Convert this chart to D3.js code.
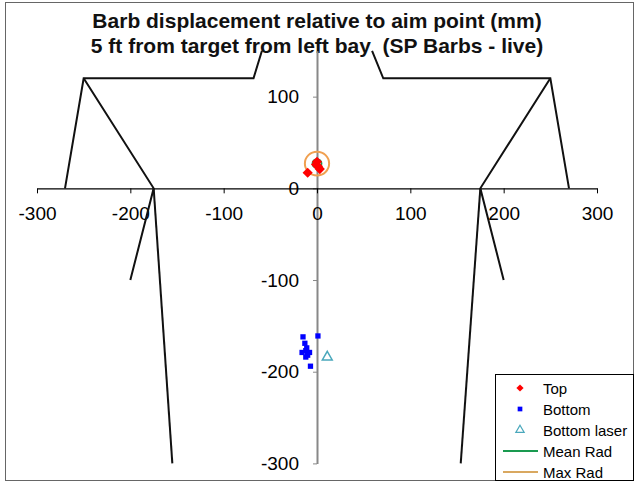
<!DOCTYPE html>
<html>
<head>
<meta charset="utf-8">
<script src="https://cdn.jsdelivr.net/npm/d3@7"></script>
<style>
  body { margin: 0; background: #fff; }
  svg { font-family: "Liberation Sans", Arial, sans-serif; }
</style>
</head>
<body>
<script>
const w = 636;
const h = 485;

// target outline, drawn as polylines
const outlineX = [
  [-59, -68, -250, -270],
  [-250, -175, -200],
  [-175, -155],
  [59, 71, 250, 270],
  [250, 175, 200],
  [175, 154]
];
const outlineY = [
  [150, 120, 120, 0],
  [120, 0, -100],
  [0, -300],
  [150, 120, 120, 0],
  [120, 0, -100],
  [0, -300]
];

const topX = [-10, 0, 1, 3, -1];
const topY = [17, 29, 24, 21, 26];
const bottomX = [-15, 1, -13, -11, -12, -16, -8, -10, -12, -7];
const bottomY = [-162, -161, -169, -174, -177, -179, -179, -182, -184, -194];
const laserX = [11];
const laserY = [-184];

const radCenter = [0, 27];
const meanRad = 5;
const maxRad = 13;

const xTicks = [-300, -200, -100, 0, 100, 200, 300];
const yTicks = [-300, -200, -100, 0, 100];
const legendVals = ["Top", "Bottom", "Bottom laser", "Mean Rad", "Max Rad"];

const xScale = d3.scaleLinear().domain([-300, 300]).range([37, 597]);
const yScale = d3.scaleLinear().domain([-300, 150]).range([463.4, 50.8]);

const svg = d3.select("body")
              .append("svg")
              .attr("width", w)
              .attr("height", h);

svg.append("rect")
   .attr("x", 5.5).attr("y", 2.5)
   .attr("width", 628).attr("height", 478)
   .attr("fill", "#fff")
   .attr("stroke", "#666");

// title
const title = svg.append("text")
   .attr("text-anchor", "middle")
   .attr("font-weight", "bold")
   .attr("font-size", 21)
   .attr("fill", "#111");
title.append("tspan").attr("x", 317).attr("y", 28).text("Barb displacement relative to aim point (mm)");
title.append("tspan").attr("x", 317).attr("y", 53).text("5 ft from target from left bay\u00a0 (SP Barbs - live)");

// axes
const xAxis = d3.axisBottom(xScale)
                .tickValues(xTicks)
                .tickFormat(d => String(d))
                .tickSizeInner(5)
                .tickSizeOuter(0)
                .tickPadding(13);
const yAxis = d3.axisLeft(yScale)
                .tickValues(yTicks)
                .tickFormat(d => String(d))
                .tickSizeInner(4)
                .tickSizeOuter(0)
                .tickPadding(14);

const gy = svg.append("g")
   .attr("transform", "translate(" + xScale(0) + ",0)")
   .call(yAxis);
gy.select(".domain").attr("stroke", "#888").attr("stroke-width", 2);
gy.selectAll(".tick line").attr("stroke", "#888");

const gx = svg.append("g")
   .attr("transform", "translate(0," + yScale(0) + ")")
   .call(xAxis);
gx.select(".domain").attr("stroke", "#000").attr("stroke-width", 1.3);
gx.selectAll(".tick line").attr("stroke", "#000");

svg.selectAll(".tick text")
   .attr("font-size", 19)
   .attr("font-family", "Liberation Sans, Arial, sans-serif")
   .attr("fill", "#000");

// outline
const line = d3.line().x(d => xScale(d[0])).y(d => yScale(d[1]));
svg.selectAll(".outline")
   .data(outlineX.map((xs, i) => xs.map((x, j) => [x, outlineY[i][j]])))
   .enter()
   .append("path")
   .attr("class", "outline")
   .attr("d", line)
   .attr("fill", "none")
   .attr("stroke", "#111")
   .attr("stroke-width", 2);

// radius circles
svg.append("ellipse")
   .attr("cx", xScale(radCenter[0])).attr("cy", yScale(radCenter[1]))
   .attr("rx", xScale(meanRad) - xScale(0)).attr("ry", yScale(0) - yScale(meanRad))
   .attr("fill", "none").attr("stroke", "#1a9a50").attr("stroke-width", 1.5);
svg.append("ellipse")
   .attr("cx", xScale(radCenter[0])).attr("cy", yScale(radCenter[1]))
   .attr("rx", xScale(maxRad) - xScale(0)).attr("ry", yScale(0) - yScale(maxRad))
   .attr("fill", "none").attr("stroke", "#f0a050").attr("stroke-width", 2);

svg.selectAll(".top")
   .data(topX)
   .enter()
   .append("path")
   .attr("d", d3.symbol().type(d3.symbolSquare).size(52))
   .attr("transform", (d, i) => "translate(" + xScale(d) + "," + yScale(topY[i]) + ") rotate(45)")
   .attr("fill", "#ff0000");

svg.selectAll(".bottom")
   .data(bottomX)
   .enter()
   .append("path")
   .attr("d", d3.symbol().type(d3.symbolSquare).size(28))
   .attr("transform", (d, i) => "translate(" + xScale(d) + "," + yScale(bottomY[i]) + ")")
   .attr("fill", "#0000ff");

svg.selectAll(".laser")
   .data(laserX)
   .enter()
   .append("path")
   .attr("d", d3.symbol().type(d3.symbolTriangle).size(42))
   .attr("transform", (d, i) => "translate(" + xScale(d) + "," + yScale(laserY[i]) + ")")
   .attr("fill", "none")
   .attr("stroke", "#4aa8bc")
   .attr("stroke-width", 1.5);

// legend
svg.append("rect")
   .attr("x", 495.5).attr("y", 374.5)
   .attr("width", 138).attr("height", 106)
   .attr("fill", "#fff")
   .attr("stroke", "#000");

const legend = svg.selectAll(".legends")
                  .data(legendVals)
                  .enter()
                  .append("g")
                  .attr("transform", (d, i) => "translate(0," + (388 + i * 21) + ")");

legend.append("text")
      .attr("x", 543)
      .attr("y", 5.5)
      .attr("font-size", 15)
      .text(d => d);

legend.filter((d, i) => i === 0).append("path")
      .attr("d", d3.symbol().type(d3.symbolSquare).size(26))
      .attr("transform", "translate(520,0) rotate(45)")
      .attr("fill", "#ff0000");
legend.filter((d, i) => i === 1).append("path")
      .attr("d", d3.symbol().type(d3.symbolSquare).size(22))
      .attr("transform", "translate(520,0)")
      .attr("fill", "#0000ff");
legend.filter((d, i) => i === 2).append("path")
      .attr("d", d3.symbol().type(d3.symbolTriangle).size(30))
      .attr("transform", "translate(520,0)")
      .attr("fill", "none")
      .attr("stroke", "#4aa8bc")
      .attr("stroke-width", 1.2);
legend.filter((d, i) => i === 3).append("line")
      .attr("x1", 503).attr("x2", 538)
      .attr("stroke", "#1a9a50").attr("stroke-width", 2);
legend.filter((d, i) => i === 4).append("line")
      .attr("x1", 503).attr("x2", 538)
      .attr("stroke", "#d9a860").attr("stroke-width", 2);
</script>
</body>
</html>
